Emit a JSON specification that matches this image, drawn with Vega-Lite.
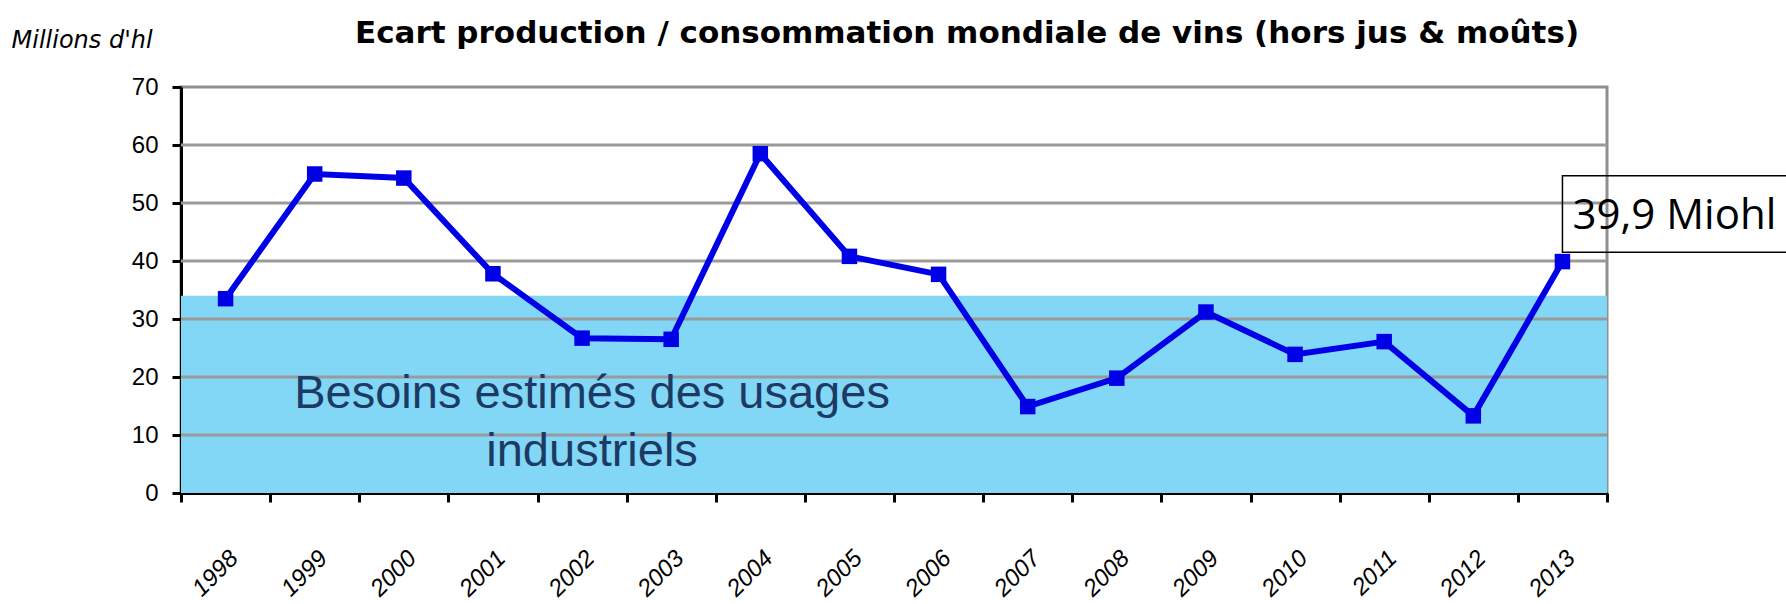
{
  "$schema": "https://vega.github.io/schema/vega-lite/v6.json",
  "width": 1426,
  "height": 406,
  "autosize": {"type": "none"},
  "padding": {"left": 181, "top": 87, "right": 179, "bottom": 111},
  "background": "white",
  "config": {
    "view": {"stroke": "#8f8f8f", "strokeWidth": 3},
    "font": "Liberation Sans"
  },
  "title": {
    "text": "Ecart production / consommation mondiale de vins (hors jus & moûts)",
    "fontSize": 31,
    "fontWeight": "bold",
    "font": "DejaVu Sans",
    "color": "black",
    "anchor": "start",
    "frame": "group",
    "dx": 174,
    "dy": 29,
    "baseline": "alphabetic",
    "offset": -17
  },
  "datasets": {
    "ecart": [
      {"annee": "1998", "ecart": 33.5},
      {"annee": "1999", "ecart": 55.0},
      {"annee": "2000", "ecart": 54.3},
      {"annee": "2001", "ecart": 37.8},
      {"annee": "2002", "ecart": 26.7},
      {"annee": "2003", "ecart": 26.5},
      {"annee": "2004", "ecart": 58.5},
      {"annee": "2005", "ecart": 40.8},
      {"annee": "2006", "ecart": 37.7},
      {"annee": "2007", "ecart": 14.9},
      {"annee": "2008", "ecart": 19.8},
      {"annee": "2009", "ecart": 31.2},
      {"annee": "2010", "ecart": 23.9},
      {"annee": "2011", "ecart": 26.1},
      {"annee": "2012", "ecart": 13.3},
      {"annee": "2013", "ecart": 39.9}
    ],
    "besoins": [{"base": 0, "besoin": 34}],
    "grille": [{"v": 10}, {"v": 20}, {"v": 30}, {"v": 40}, {"v": 50}, {"v": 60}]
  },
  "layer": [
    {
      "data": {"name": "besoins"},
      "mark": {"type": "rect", "color": "#81d7f5"},
      "encoding": {
        "y": {"field": "base", "type": "quantitative", "scale": {"domain": [0, 70], "nice": false}},
        "y2": {"field": "besoin"}
      }
    },
    {
      "data": {"name": "grille"},
      "mark": {"type": "rule", "color": "#9a9a9a", "strokeWidth": 3},
      "encoding": {
        "y": {"field": "v", "type": "quantitative"}
      }
    },
    {
      "data": {"name": "ecart"},
      "mark": {"type": "line", "color": "#0000e6", "strokeWidth": 6},
      "encoding": {
        "x": {
          "field": "annee",
          "type": "ordinal",
          "scale": {"paddingInner": 0, "paddingOuter": 0},
          "axis": {
            "title": null,
            "labelAngle": -45,
            "labelFont": "Liberation Sans",
            "labelFontStyle": "italic",
            "labelFontSize": 24,
            "labelColor": "black",
            "labelPadding": 44,
            "tickBand": "extent",
            "tickColor": "black",
            "tickWidth": 3,
            "tickSize": 9,
            "domainColor": "black",
            "domainWidth": 3,
            "grid": false
          }
        },
        "y": {
          "field": "ecart",
          "type": "quantitative",
          "axis": {
            "values": [0, 10, 20, 30, 40, 50, 60, 70],
            "title": "Millions d'hl",
            "titleAngle": 0,
            "titleAlign": "left",
            "titleBaseline": "alphabetic",
            "titleX": -170,
            "titleY": -40,
            "titleFont": "DejaVu Sans",
            "titleFontStyle": "italic",
            "titleFontWeight": "normal",
            "titleFontSize": 24,
            "titleColor": "black",
            "labelFont": "Liberation Sans",
            "labelFontSize": 24,
            "labelColor": "black",
            "labelPadding": 14,
            "tickSize": 9,
            "tickColor": "black",
            "tickWidth": 3,
            "domainColor": "black",
            "domainWidth": 3,
            "grid": false
          }
        }
      }
    },
    {
      "data": {"name": "ecart"},
      "mark": {"type": "point", "shape": "square", "filled": true, "size": 240, "color": "#0000e6", "opacity": 1},
      "encoding": {
        "x": {"field": "annee", "type": "ordinal"},
        "y": {"field": "ecart", "type": "quantitative"}
      }
    },
    {
      "data": {"name": "ecart"},
      "transform": [{"filter": "datum.annee == '2002'"}],
      "mark": {
        "type": "text",
        "text": ["Besoins estimés des usages", "industriels"],
        "font": "Liberation Sans",
        "fontSize": 47,
        "color": "#1c3a64",
        "align": "center",
        "baseline": "alphabetic",
        "lineHeight": 58,
        "dx": 10
      },
      "encoding": {
        "x": {"field": "annee", "type": "ordinal"},
        "y": {"datum": 14.6, "type": "quantitative"}
      }
    },
    {
      "data": {"name": "ecart"},
      "transform": [{"filter": "datum.annee == '2013'"}],
      "mark": {
        "type": "rect",
        "fill": "white",
        "fillOpacity": 0,
        "stroke": "black",
        "strokeWidth": 1.5,
        "x2Offset": 260,
        "clip": false
      },
      "encoding": {
        "x": {"field": "annee", "type": "ordinal", "bandPosition": 0.5},
        "x2": {"field": "annee", "bandPosition": 0.5},
        "y": {"datum": 54.7, "type": "quantitative"},
        "y2": {"datum": 41.5}
      }
    },
    {
      "data": {"name": "ecart"},
      "transform": [{"filter": "datum.annee == '2013'"}],
      "mark": {
        "type": "text",
        "text": "39,9 Miohl",
        "font": "Open Sans",
        "fontSize": 42,
        "color": "black",
        "align": "left",
        "baseline": "alphabetic",
        "dx": 10
      },
      "encoding": {
        "x": {"field": "annee", "type": "ordinal"},
        "y": {"datum": 45.6, "type": "quantitative"}
      }
    }
  ]
}
